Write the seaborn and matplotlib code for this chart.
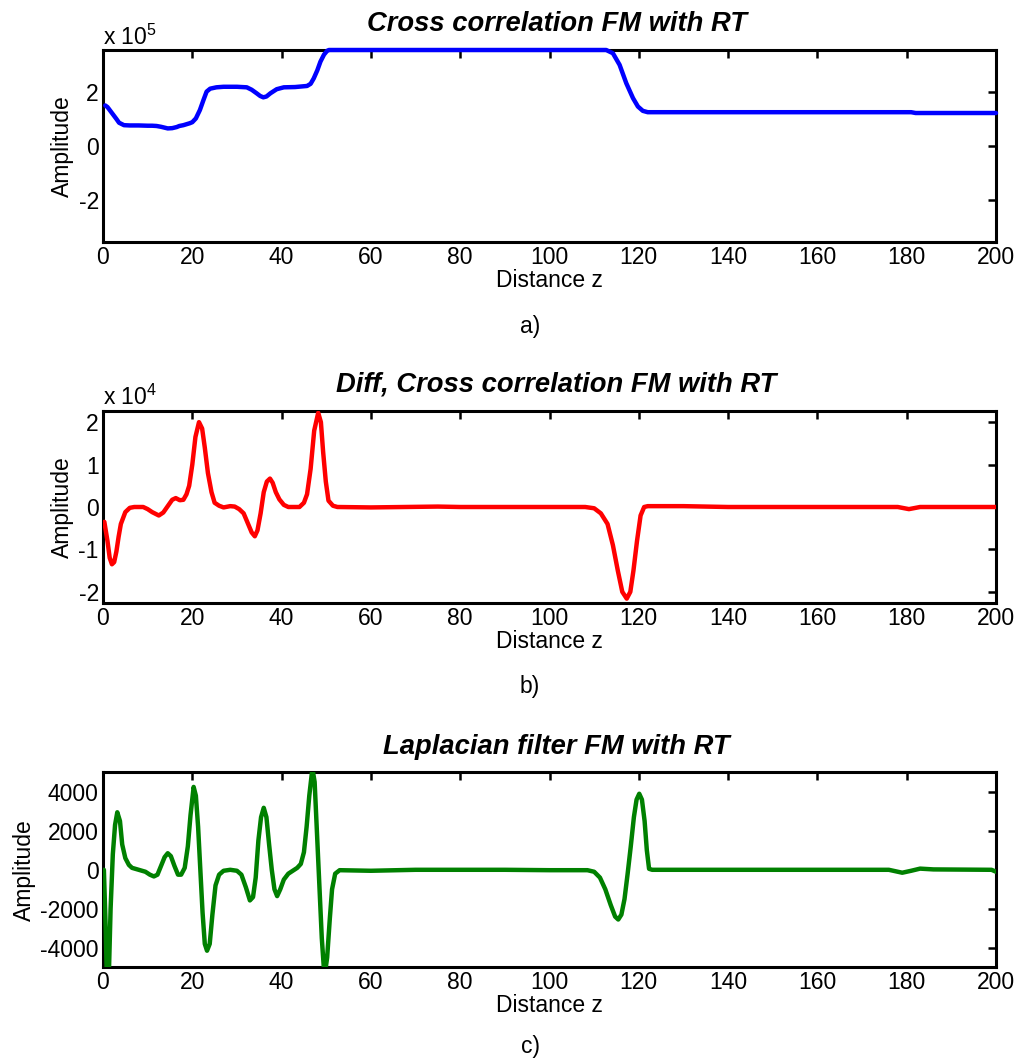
import matplotlib
matplotlib.use("Agg")
import matplotlib.pyplot as plt
import seaborn as sns
import numpy as np

# ---- data -------------------------------------------------------------
# (a) cross correlation FM with RT, amplitude in units of 1e5
corr_z = [0.5, 1, 2, 3, 3.6, 4.7, 6, 8, 10, 11, 12, 13, 14, 14.5, 15.5, 16.5,
          17.1, 18, 19.4, 20, 20.8, 21.7, 22.5, 23.2, 24, 25.4, 27, 30, 32.2,
          33.3, 34.4, 35.2, 35.9, 36.6, 37.5, 38.9, 40.5, 43, 45.7, 46.5, 47.2,
          48, 48.7, 49.5, 50.2, 50.6, 60, 80, 100, 112.7, 114.2, 115.7, 117.2,
          118.7, 119.8, 120.9, 122, 130, 150, 170, 181, 182, 190, 200]
corr_amp = [1.50, 1.44, 1.22, 1.00, 0.86, 0.77, 0.76, 0.76, 0.75, 0.75, 0.74,
            0.71, 0.67, 0.65, 0.66, 0.70, 0.74, 0.77, 0.84, 0.88, 1.02, 1.33,
            1.70, 2.01, 2.12, 2.17, 2.19, 2.19, 2.17, 2.08, 1.95, 1.85, 1.80,
            1.83, 1.95, 2.10, 2.17, 2.18, 2.22, 2.30, 2.50, 2.80, 3.12, 3.38,
            3.52, 3.55, 3.55, 3.55, 3.55, 3.55, 3.43, 3.00, 2.32, 1.77, 1.46,
            1.30, 1.25, 1.25, 1.25, 1.25, 1.25, 1.22, 1.22, 1.22]

# (b) derivative of the cross correlation, amplitude in units of 1e4
diff_z = [0.3, 1.0, 1.5, 2.0, 2.5, 3.0, 3.5, 4.0, 5.0, 6.0, 7.0, 9.0, 10, 11,
          12.5, 13.5, 14.5, 15.5, 16.3, 17.2, 18.0, 18.7, 19.3, 20.0, 20.7,
          21.5, 22.2, 22.8, 23.5, 24.3, 25.0, 26, 27, 28.5, 29.5, 30.5, 31.5,
          32.5, 33.3, 34.0, 34.6, 35.3, 36.0, 36.7, 37.4, 38.0, 38.7, 39.5,
          40.5, 41.5, 44, 45, 45.7, 46.5, 47.3, 48.2, 48.8, 49.3, 49.9, 50.5,
          51.5, 52.5, 60, 75, 80, 100, 108, 110, 111.5, 113, 114.2, 115.3,
          116.3, 117.3, 118.1, 118.8, 119.6, 120.4, 121.2, 122, 130, 140, 150,
          160, 170, 178, 180.5, 183, 200]
diff_amp = [-0.35, -0.80, -1.20, -1.35, -1.30, -1.05, -0.70, -0.40, -0.12,
            -0.02, 0.0, 0.0, -0.05, -0.12, -0.20, -0.13, 0.02, 0.17, 0.21,
            0.16, 0.17, 0.30, 0.50, 1.00, 1.65, 2.00, 1.85, 1.40, 0.80, 0.35,
            0.10, 0.03, -0.01, 0.02, 0.01, -0.05, -0.15, -0.40, -0.60, -0.69,
            -0.55, -0.15, 0.35, 0.60, 0.67, 0.57, 0.35, 0.18, 0.05, 0.0, 0.0,
            0.10, 0.30, 0.90, 1.80, 2.22, 2.00, 1.30, 0.60, 0.15, 0.03, 0.0,
            -0.01, 0.01, 0.0, 0.0, 0.0, -0.03, -0.15, -0.40, -0.90, -1.50,
            -2.00, -2.16, -2.00, -1.50, -0.80, -0.20, 0.0, 0.02, 0.02, 0.0,
            0.0, 0.0, 0.0, 0.0, -0.05, 0.0, 0.0]

# (c) Laplacian filter output
lap_z = [0.2, 0.6, 0.9, 1.3, 1.7, 2.2, 2.7, 3.2, 3.8, 4.3, 5.0, 5.8, 6.5, 8,
         9.5, 10.5, 11.4, 12.2, 13, 13.8, 14.5, 15.2, 16, 16.8, 17.5, 18.3, 19,
         19.6, 20.3, 20.8, 21.3, 21.8, 22.3, 22.8, 23.3, 23.9, 24.5, 25.2, 26,
         27, 28.5, 30, 31, 32, 32.9, 33.6, 34.2, 34.8, 35.4, 36, 36.6, 37.2,
         37.8, 38.4, 39, 39.7, 40.5, 41.5, 42.5, 43.5, 44.3, 45, 45.6, 46.2,
         46.9, 47.4, 47.9, 48.5, 49.0, 49.6, 50.2, 50.8, 51.3, 52, 53, 60, 70,
         80, 90, 100, 108.5, 110, 111.3, 112.5, 113.7, 114.7, 115.4, 116.1,
         116.8, 117.5, 118.2, 118.9, 119.5, 120.1, 120.7, 121.3, 121.8, 122.3,
         123, 140, 160, 176, 179, 181, 183, 186, 199, 200]
lap_amp = [0, -3000, -6000, -5500, -2000, 800, 2300, 2950, 2500, 1300, 600,
           250, 100, 0, -100, -250, -340, -250, 200, 650, 850, 700, 200, -250,
           -250, 100, 1200, 2800, 4250, 3800, 2200, 0, -2200, -3800, -4150,
           -3800, -2300, -800, -250, -50, 0, -50, -250, -900, -1570, -1400,
           -400, 1500, 2700, 3180, 2700, 1300, 0, -1000, -1350, -1000, -500,
           -200, -50, 100, 300, 900, 2200, 3800, 5200, 4500, 2000, -1000,
           -3500, -5500, -4500, -2500, -1000, -200, -20, -50, 0, 0, 0, -20,
           -20, -100, -400, -1000, -1800, -2400, -2550, -2300, -1500, -200,
           1200, 2700, 3600, 3900, 3600, 2500, 1000, 50, 0, 0, 0, 0, -150,
           -50, 60, 20, 0, -100]

titles = ["Cross correlation FM with RT",
          "Diff, Cross correlation FM with RT",
          "Laplacian filter FM with RT"]
panel_tags = ["a)", "b)", "c)"]
scale_labels = [r"x 10$^{5}$", r"x 10$^{4}$", None]
y_limits = [(-3.55, 3.55), (-2.27, 2.27), (-5000, 5000)]
y_ticks = [[-2, 0, 2], [-2, -1, 0, 1, 2], [-4000, -2000, 0, 2000, 4000]]
x_ticks = list(range(0, 201, 20))
colors = ["#0000ff", "#ff0000", "#008000"]

# ---- style --------------------------------------------------------------
sns.set_style("white")
plt.rcParams["font.family"] = ["Liberation Sans", "DejaVu Sans"]
plt.rcParams["mathtext.fontset"] = "custom"
plt.rcParams["mathtext.rm"] = "Liberation Sans"
plt.rcParams["mathtext.it"] = "Liberation Sans:italic"
plt.rcParams["mathtext.bf"] = "Liberation Sans:bold"
plt.rcParams["axes.unicode_minus"] = False
for key in ["text.color", "axes.labelcolor", "xtick.color", "ytick.color",
            "axes.edgecolor"]:
    plt.rcParams[key] = "black"

FS = 16.5
fig = plt.figure(figsize=(10.2, 10.59), dpi=100)

W, H = 1020.0, 1059.0
left, right = 103 / W, 996 / W
boxes = [(50, 242), (410.7, 603.3), (772.3, 967.3)]
tag_y = [326, 686, 1046]

series = [(corr_z, corr_amp), (diff_z, diff_amp), (lap_z, lap_amp)]

for i, ((zs, amps), (top, bot)) in enumerate(zip(series, boxes)):
    ax = fig.add_axes([left, 1 - bot / H, right - left, (bot - top) / H])
    sns.lineplot(x=zs, y=amps, ax=ax, color=colors[i], linewidth=3.2,
                 estimator=None, sort=False, zorder=3)
    if i == 0:
        ax.lines[0].set_clip_on(False)
    ax.set_xlim(0, 200)
    ax.set_ylim(*y_limits[i])
    ax.set_xticks(x_ticks)
    ax.set_yticks(y_ticks[i])
    ax.tick_params(direction="in", length=6, width=1.8, labelsize=FS, pad=3,
                   top=True, right=True, colors="black")
    for sp in ax.spines.values():
        sp.set_linewidth(2.2)
        sp.set_color("black")
        sp.set_visible(True)
    ax.set_xlabel("Distance z", fontsize=FS, labelpad=0)
    ax.set_ylabel("Amplitude", fontsize=FS, labelpad=3)
    ax.annotate(titles[i], xy=(0.508, 1.0), xycoords="axes fraction",
                xytext=(0, 13.5), textcoords="offset points",
                ha="center", va="baseline", fontsize=19.7,
                fontweight="bold", fontstyle="italic")
    if scale_labels[i]:
        ax.annotate(scale_labels[i], xy=(0.0, 1.0), xycoords="axes fraction",
                    xytext=(0, 4), textcoords="offset points",
                    ha="left", va="baseline", fontsize=FS)
    fig.text(530 / W, 1 - tag_y[i] / H, panel_tags[i], ha="center",
             va="center", fontsize=FS)

fig.savefig("out.png", dpi=100, facecolor="white")
